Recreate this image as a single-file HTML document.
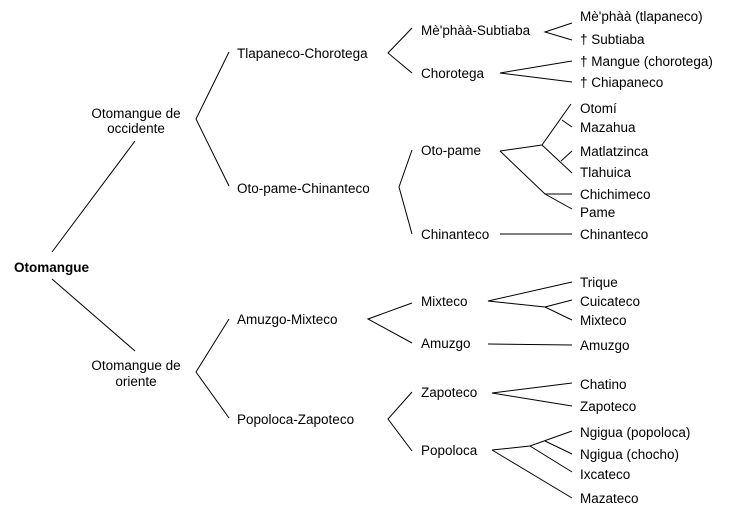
<!DOCTYPE html>
<html><head><meta charset="utf-8"><style>
html,body{margin:0;padding:0;background:#fff;}
svg{display:block;}
text{font-family:"Liberation Sans",sans-serif;font-size:13.5px;fill:#000;}
</style></head><body>
<svg width="732" height="516" viewBox="0 0 732 516" xmlns="http://www.w3.org/2000/svg">
<g stroke="#000" stroke-width="1" fill="none">
<line x1="52" y1="252" x2="135" y2="141"/>
<line x1="52" y1="279" x2="135" y2="351"/>
<polyline points="229,52 196,119 229,186"/>
<polyline points="229,319 196,372 229,418"/>
<polyline points="412,28 388,53 412,73"/>
<polyline points="412,150 399,187 412,234"/>
<polyline points="412,303 368,319 412,343"/>
<polyline points="412,392 388,419 412,451"/>
<polyline points="572,23 545,32 572,40"/>
<polyline points="572,61 500,73 572,82"/>
<polyline points="500,151 542,145"/>
<line x1="542" y1="145" x2="571" y2="104"/>
<line x1="562" y1="120" x2="572" y2="127"/>
<line x1="542" y1="145" x2="572" y2="173"/>
<line x1="561" y1="161" x2="572" y2="151"/>
<polyline points="500,151 545,194 572,209"/>
<line x1="545" y1="194" x2="572" y2="194"/>
<line x1="500" y1="234" x2="572" y2="234"/>
<polyline points="572,282 488,301 545,307 572,320"/>
<line x1="545" y1="307" x2="572" y2="300"/>
<line x1="488" y1="344" x2="572" y2="345"/>
<polyline points="572,383 492,393 572,406"/>
<polyline points="492,450 530,446 572,431"/>
<line x1="545" y1="441" x2="572" y2="454"/>
<line x1="530" y1="446" x2="572" y2="472"/>
<line x1="492" y1="450" x2="572" y2="498"/>
</g>
<text x="14" y="272" font-weight="bold">Otomangue</text>
<text x="136" y="118" text-anchor="middle">Otomangue de</text>
<text x="136" y="133" text-anchor="middle">occidente</text>
<text x="136" y="370" text-anchor="middle">Otomangue de</text>
<text x="136" y="386" text-anchor="middle">oriente</text>
<text x="237" y="58">Tlapaneco-Chorotega</text>
<text x="237" y="193">Oto-pame-Chinanteco</text>
<text x="237" y="324">Amuzgo-Mixteco</text>
<text x="237" y="424">Popoloca-Zapoteco</text>
<text x="421" y="35">Mè'phàà-Subtiaba</text>
<text x="421" y="78">Chorotega</text>
<text x="421" y="155">Oto-pame</text>
<text x="421" y="239">Chinanteco</text>
<text x="421" y="306">Mixteco</text>
<text x="421" y="348">Amuzgo</text>
<text x="421" y="397">Zapoteco</text>
<text x="421" y="455">Popoloca</text>
<text x="580" y="21">Mè'phàà (tlapaneco)</text>
<text x="580" y="44">† Subtiaba</text>
<text x="580" y="66">† Mangue (chorotega)</text>
<text x="580" y="87">† Chiapaneco</text>
<text x="580" y="113">Otomí</text>
<text x="580" y="132">Mazahua</text>
<text x="580" y="156">Matlatzinca</text>
<text x="580" y="177">Tlahuica</text>
<text x="580" y="199">Chichimeco</text>
<text x="580" y="217">Pame</text>
<text x="580" y="239">Chinanteco</text>
<text x="580" y="287">Trique</text>
<text x="580" y="306">Cuicateco</text>
<text x="580" y="325">Mixteco</text>
<text x="580" y="350">Amuzgo</text>
<text x="580" y="389">Chatino</text>
<text x="580" y="411">Zapoteco</text>
<text x="580" y="437">Ngigua (popoloca)</text>
<text x="580" y="459">Ngigua (chocho)</text>
<text x="580" y="479">Ixcateco</text>
<text x="580" y="503">Mazateco</text>
</svg>
</body></html>
